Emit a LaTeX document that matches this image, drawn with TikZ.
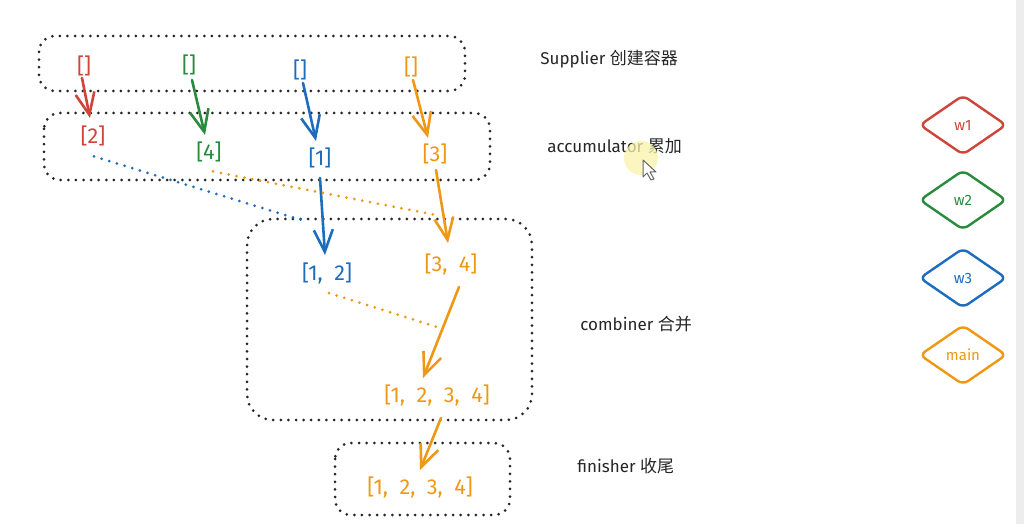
\documentclass[tikz,border=0pt]{standalone}
\usepackage{fontspec}
\setmainfont{Fira Sans}
\newfontfamily\cjk{Noto Sans CJK SC}
\usetikzlibrary{arrows.meta,shapes.geometric}
\definecolor{cR}{RGB}{208,68,58}
\definecolor{cG}{RGB}{42,138,62}
\definecolor{cB}{RGB}{30,108,190}
\definecolor{cO}{RGB}{238,152,22}
\definecolor{cY}{RGB}{250,242,170}
\begin{document}
\begin{tikzpicture}[x=0.5pt,y=-0.5pt,
  grp/.style={draw=black!85,line width=1.5pt,dash pattern=on 0pt off 3.8pt,line cap=round,rounded corners=8pt},
  val/.style={font=\fontsize{10.8}{12}\selectfont,inner sep=2pt},
  lab/.style={font=\fontsize{8.5}{10}\selectfont,text=black!85,anchor=west,inner sep=0pt},
  arr/.style={line width=1.3pt,-{Straight Barb[length=11pt,width=9.5pt,line width=1.3pt]},line cap=round,line join=round},
  dots/.style={line width=1.5pt,dash pattern=on 0pt off 4pt,line cap=round},
  dia/.style={draw,shape=diamond,line width=1.2pt,rounded corners=3pt,minimum width=43.5pt,minimum height=30pt,inner sep=0pt,font=\fontsize{7.5}{9}\selectfont}]
\useasboundingbox[fill=white] (0,0) rectangle (1024,524);
\fill[black!7] (1016,0) rectangle (1024,524);
% group boxes
\draw[grp] (39,36) rectangle (465,91);
\draw[grp] (44,113) rectangle (490,180);
\draw[grp,rounded corners=13pt] (247,219) rectangle (532,420);
\draw[grp] (335,443) rectangle (510,515);
% supplier values
\node[val,text=cR] (r0) at (84,66) {[]};
\node[val,text=cG] (g0) at (189,65) {[]};
\node[val,text=cB] (b0) at (300,70) {[]};
\node[val,text=cO] (o0) at (411,67) {[]};
% accumulator values
\node[val,text=cR] (r1) at (93,136) {[2]};
\node[val,text=cG] (g1) at (209,152) {[4]};
\node[val,text=cB] (b1) at (320,158) {[1]};
\node[val,text=cO] (o1) at (435,154) {[3]};
% combiner values
\node[val,text=cB] (b2) at (327,273) {[1,\ \ 2]};
\node[val,text=cO] (o2) at (451,264) {[3,\ \ 4]};
\node[val,text=cO] (o3) at (437,395) {[1,\ \ 2,\ \ 3,\ \ 4]};
% finisher value
\node[val,text=cO] (f) at (420,487) {[1,\ \ 2,\ \ 3,\ \ 4]};
% arrows
\draw[arr,cR] ([shift={(-2,12)}]r0.center) -- ([shift={(-3,-18)}]r1.center);
\draw[arr,cG] ([shift={(3,15)}]g0.center) -- ([shift={(-4,-17)}]g1.center);
\draw[arr,cB] ([shift={(3,13)}]b0.center) -- ([shift={(-4,-17)}]b1.center);
\draw[arr,cO] ([shift={(2,13)}]o0.center) -- ([shift={(-7,-16)}]o1.center);
\draw[arr,cB] ([shift={(0,20)}]b1.center) -- ([shift={(-2,-18)}]b2.center);
\draw[arr,cO] ([shift={(1,16)}]o1.center) -- ([shift={(-3,-21)}]o2.center);
\draw[arr,cO] ([shift={(8,23)}]o2.center) -- ([shift={(-14,-17)}]o3.center);
\draw[arr,cO] ([shift={(4,23)}]o3.center) -- ([shift={(0,-17)}]f.center);
% dotted merges
\coordinate (bd) at (308,222);
\coordinate (od1) at (436,215);
\coordinate (od2) at (437,327);
\draw[dots,cB] (r1.south) ++(1,6) -- (bd);
\draw[dots,cO] (g1.south) ++(4,5) -- (od1);
\draw[dots,cO] (b2.south) ++(2,5) -- (od2);
% labels
\node[lab] (ls) at (540,59) {Supplier \cjk 创建容器};
\node[lab] (la) at (547,146) {accumulator \cjk 累加};
\node[lab] (lc) at (580,324) {combiner \cjk 合并};
\node[lab] (lf) at (577,466) {finisher \cjk 收尾};
% legend
\node[dia,cR] (w1) at (963,125) {w1};
\node[dia,cG] (w2) at (963,200) {w2};
\node[dia,cB] (w3) at (963,278) {w3};
\node[dia,cO] (wm) at (963,355) {main};
% cursor highlight
\fill[cY,opacity=0.75] (641,158) circle (17);
\draw[black!60,fill=white,line width=0.5pt,line join=round] (643,160) -- (643,177) -- (647,173) -- (651,180) -- (654,179) -- (650,172) -- (656,172) -- cycle;
\end{tikzpicture}
\end{document}
